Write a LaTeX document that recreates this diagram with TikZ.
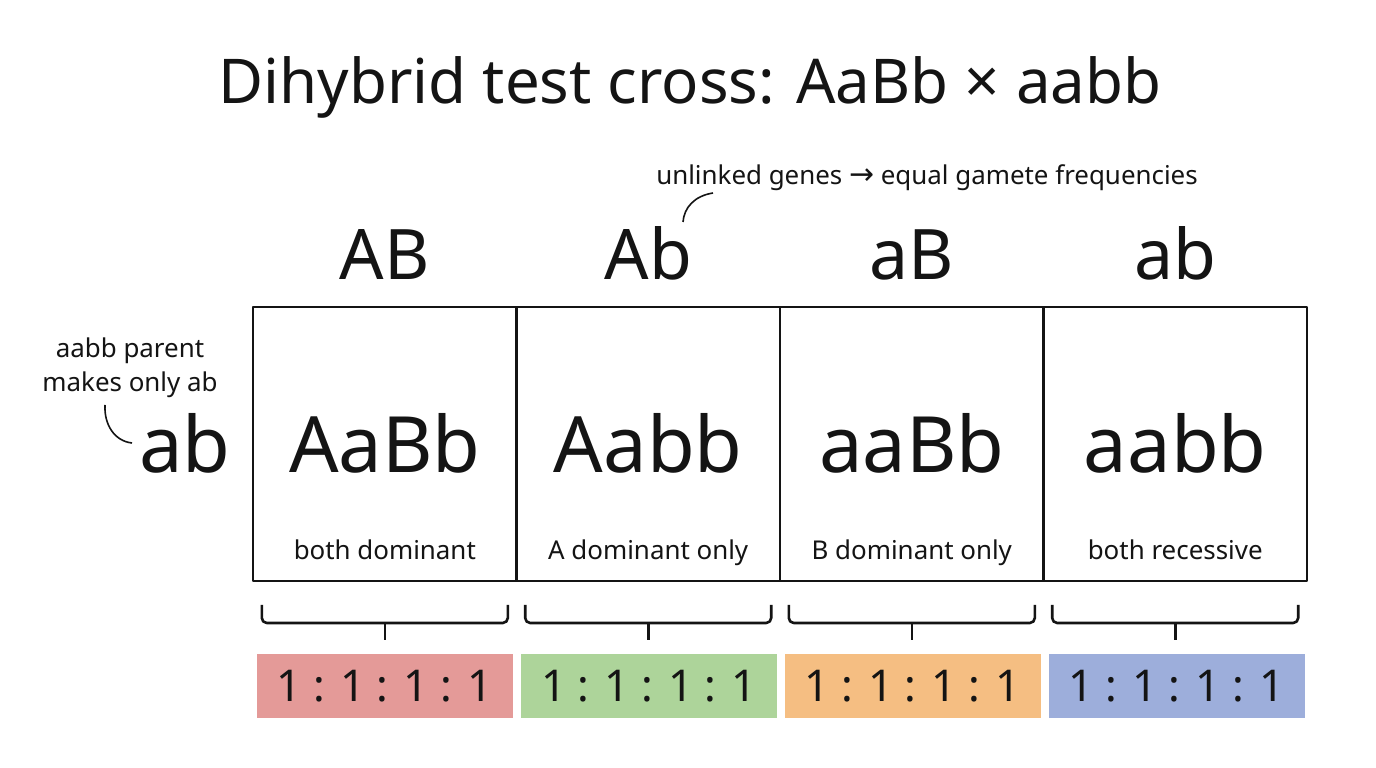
\documentclass[tikz,border=0pt]{standalone}
\usepackage{fontspec}
\setmainfont{Noto Sans}
\newfontfamily\arrowfont{DejaVu Sans}
\definecolor{inkcol}{rgb}{0.08,0.08,0.08}
\definecolor{redcol}{RGB}{228,154,152}
\definecolor{greencol}{RGB}{173,212,154}
\definecolor{orangecol}{RGB}{245,190,130}
\definecolor{bluecol}{RGB}{157,174,219}
\begin{document}
\begin{tikzpicture}[>=latex,line join=bevel,
  cell/.style={draw=inkcol,line width=1bp,minimum width=131.75bp,minimum height=137bp,inner sep=0pt},
  big/.style={anchor=base,text=inkcol,font=\fontsize{39}{44}\selectfont},
  head/.style={anchor=base,text=inkcol,font=\fontsize{35}{40}\selectfont},
  small/.style={anchor=base,text=inkcol,font=\fontsize{13}{15}\selectfont},
  ratio/.style={minimum width=128bp,minimum height=32bp,inner sep=0pt,text=inkcol,font=\fontsize{22}{26}\selectfont},
  lead/.style={draw=inkcol,line width=0.8bp},
  brace/.style={draw=inkcol,line width=1.3bp,rounded corners=2.5bp},
]
%%
\begin{scope}
  \definecolor{fillcol}{rgb}{1.0,1.0,1.0};
  \fill[fillcol] (0bp,0bp) -- (0bp,384bp) -- (688bp,384bp) -- (688bp,0bp) -- cycle;
\end{scope}
%% title and note
  \node (title) at (345bp,332bp) [anchor=base,text=inkcol,font=\fontsize{31}{37}\selectfont] {Dihybrid test cross: AaBb × aabb};
  \node (note) at (463.5bp,291.5bp) [small] {unlinked genes {\arrowfont\fontsize{15}{15}\selectfont →} equal gamete frequencies};
  \coordinate (noteend) at (356.5bp,287.5bp);
  \coordinate (notetip) at (341.5bp,273bp);
%% gametes of AaBb
  \node (gAB) at (192.4bp,244bp) [head] {AB};
  \node (gAb) at (324.1bp,244bp) [head] {Ab};
  \node (gaB) at (455.9bp,244bp) [head] {aB};
  \node (gab) at (587.6bp,244bp) [head] {ab};
  \draw [lead] (notetip) ..controls (342bp,280bp) and (347bp,286bp)  .. (noteend);
%% gamete of aabb
  \node (side) at (65bp,205bp) [small] {aabb parent};
  \node (side2) at (65bp,188bp) [small] {makes only ab};
  \node (row) at (92.5bp,147.5bp) [big] {ab};
  \coordinate (sidetip) at (52.5bp,181.5bp);
  \coordinate (sideend) at (66bp,162.5bp);
  \draw [lead] (sidetip) ..controls (52bp,172bp) and (57bp,163.5bp)  .. (sideend);
%% offspring cells
  \node (cAB) at (192.4bp,162bp) [cell] {};
  \node (cAb) at (324.1bp,162bp) [cell] {};
  \node (caB) at (455.9bp,162bp) [cell] {};
  \node (cab) at (587.6bp,162bp) [cell] {};
  \node (tAB) at (192.4bp,147.5bp) [big] {AaBb};
  \node (tAb) at (324.1bp,147.5bp) [big] {Aabb};
  \node (taB) at (455.9bp,147.5bp) [big] {aaBb};
  \node (tab) at (587.6bp,147.5bp) [big] {aabb};
  \node (pAB) at (192.4bp,104bp) [small] {both dominant};
  \node (pAb) at (324.1bp,104bp) [small] {A dominant only};
  \node (paB) at (455.9bp,104bp) [small] {B dominant only};
  \node (pab) at (587.6bp,104bp) [small] {both recessive};
%% ratios
  \node (rAB) at (192.25bp,41bp) [ratio,fill=redcol] {1 : 1 : 1 : 1};
  \node (rAb) at (324.5bp,41bp) [ratio,fill=greencol] {1 : 1 : 1 : 1};
  \node (raB) at (456.25bp,41bp) [ratio,fill=orangecol] {1 : 1 : 1 : 1};
  \node (rab) at (588.25bp,41bp) [ratio,fill=bluecol] {1 : 1 : 1 : 1};
%% braces
  \draw [brace] (130.9bp,81.5bp) -- (130.9bp,72.5bp) -- (253.9bp,72.5bp) -- (253.9bp,81.5bp);
  \draw [brace] (262.6bp,81.5bp) -- (262.6bp,72.5bp) -- (385.6bp,72.5bp) -- (385.6bp,81.5bp);
  \draw [brace] (394.4bp,81.5bp) -- (394.4bp,72.5bp) -- (517.4bp,72.5bp) -- (517.4bp,81.5bp);
  \draw [brace] (526.1bp,81.5bp) -- (526.1bp,72.5bp) -- (649.1bp,72.5bp) -- (649.1bp,81.5bp);
  \draw [brace] (192.4bp,72.5bp) -- (192.4bp,64bp);
  \draw [brace] (324.1bp,72.5bp) -- (324.1bp,64bp);
  \draw [brace] (455.9bp,72.5bp) -- (455.9bp,64bp);
  \draw [brace] (587.6bp,72.5bp) -- (587.6bp,64bp);
%
\end{tikzpicture}
\end{document}
